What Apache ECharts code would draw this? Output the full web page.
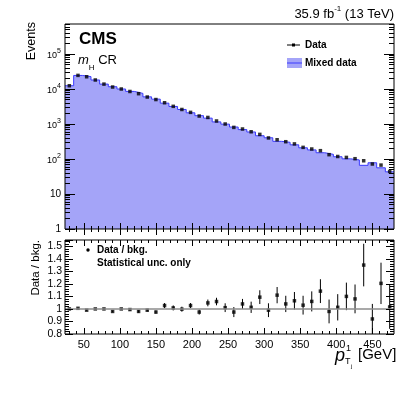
<!DOCTYPE html>
<html>
<head>
<meta charset="utf-8">
<script src="https://cdn.jsdelivr.net/npm/echarts@6/dist/echarts.min.js"></script>
<style>
html,body{margin:0;padding:0;background:#fff}
#chart{width:407px;height:395px}
</style>
</head>
<body>
<div id="chart"></div>
<script>
// bin edges (GeV) and values
const binEdges = [24,36,48,60,72,84,96,108,120,132,144,156,168,180,192,204,216,228,240,252,264,276,288,300,312,324,336,348,360,372,384,396,408,420,432,444,456,468,480];
const binCenters = [30,42,54,66,78,90,102,114,126,138,150,162,174,186,198,210,222,234,246,258,270,282,294,306,318,330,342,354,366,378,390,402,414,426,438,450,462,474];
const mixedData = [12400,24400,22600,18100,13800,11600,10000,8540,7500,5960,5130,3940,3170,2600,2090,1730,1470,1150,990,820,692,592,462,404,320,300,254,209,182,151,136,116,101,94,66,78,56,43];
const dataEvents = [12400,24500,22400,18100,13800,11400,10000,8500,7350,5900,5000,4050,3200,2600,2150,1690,1540,1220,1000,800,720,600,505,400,355,312,270,215,193,173,133,118,111,102,89,72,67,44];
const ratio = [1.0,1.005,0.99,1.0,1.0,0.98,1.0,0.995,0.98,0.99,0.975,1.027,1.008,0.998,1.027,0.975,1.048,1.059,1.01,0.975,1.04,1.013,1.094,0.99,1.11,1.04,1.065,1.03,1.06,1.142,0.98,1.013,1.1,1.08,1.35,0.92,1.204,1.016];
const ratioErr = [0.004,0.004,0.005,0.005,0.006,0.007,0.008,0.009,0.01,0.011,0.013,0.02,0.02,0.02,0.02,0.02,0.027,0.03,0.035,0.04,0.04,0.045,0.055,0.055,0.065,0.065,0.07,0.075,0.08,0.095,0.095,0.105,0.11,0.115,0.17,0.12,0.165,0.175];
const xMajorTicks = [50,100,150,200,250,300,350,400,450];
const xMinorTicks = [30,40,60,70,80,90,110,120,130,140,160,170,180,190,210,220,230,240,260,270,280,290,310,320,330,340,360,370,380,390,410,420,430,440,460,470];
const logMajorTicks = [1,10,100,1000,10000,100000];
const logMinorTicks = [2,3,4,5,6,7,8,9,20,30,40,50,60,70,80,90,200,300,400,500,600,700,800,900,
  2000,3000,4000,5000,6000,7000,8000,9000,20000,30000,40000,50000,60000,70000,80000,90000,
  200000,300000,400000,500000,600000,700000];

const FONT = '"Liberation Sans", Arial, sans-serif';
const X_MIN = 24, X_MAX = 480, Y_MIN = 1, Y_MAX = 7.2e5;

let chart = echarts.init(document.getElementById('chart'));

function xAxisDef(grid, pos, ticks, len, labels) {
  return {
    type: 'value', gridIndex: grid, position: pos, min: X_MIN, max: X_MAX, z: 10,
    axisLine: { show: false }, splitLine: { show: false },
    axisTick: { show: true, inside: true, length: len, customValues: ticks,
      lineStyle: { color: '#000', width: 1 } },
    axisLabel: labels ? { show: true, customValues: ticks, margin: 5, fontSize: 11,
      color: '#000', fontFamily: FONT } : { show: false }
  };
}

// log axis that carries the data and the decade labels
function logAxisDef() {
  return {
    type: 'log', gridIndex: 0, position: 'left', min: Y_MIN, max: Y_MAX, logBase: 10, z: 10,
    axisLine: { show: false }, splitLine: { show: false }, axisTick: { show: false },
    axisLabel: {
      show: true, customValues: logMajorTicks, margin: 4, fontFamily: FONT, color: '#000',
      formatter: function (v) {
        let e = Math.round(Math.log10(v));
        if (e === 0) return '{b|1}';
        if (e === 1) return '{b|10}';
        return '{m|10}{s|' + e + '}';
      },
      rich: {
        b: { fontSize: 10, fontFamily: FONT, color: '#000' },
        m: { fontSize: 9, fontFamily: FONT, color: '#000', verticalAlign: 'bottom', lineHeight: 12 },
        s: { fontSize: 7, fontFamily: FONT, color: '#000', verticalAlign: 'top', lineHeight: 12 }
      }
    }
  };
}

// tick-only overlay in decade units (tick marks only, no data)
function logTickAxisDef(pos, ticks, len) {
  return {
    type: 'value', gridIndex: 0, position: pos, min: 0, max: Math.log10(Y_MAX), z: 10,
    axisLine: { show: false, onZero: false }, splitLine: { show: false }, axisLabel: { show: false },
    axisTick: { show: true, inside: true, length: len, customValues: ticks.map(Math.log10),
      lineStyle: { color: '#000', width: 1 } }
  };
}

function ratioAxisDef(pos, labels) {
  return {
    type: 'value', gridIndex: 1, position: pos, min: 0.8, max: 1.55, interval: 0.1, z: 10,
    axisLine: { show: false, onZero: false }, splitLine: { show: false },
    axisTick: { show: true, inside: true, length: 8, lineStyle: { color: '#000' } },
    minorTick: { show: true, splitNumber: 5, length: 4, lineStyle: { color: '#000' } },
    axisLabel: labels ? { show: true, margin: 3, fontSize: 10.5, color: '#000', fontFamily: FONT,
      showMaxLabel: false,
      formatter: function (v) { return String(Math.round(v * 10) / 10); } } : { show: false }
  };
}

// histogram: one extra edge point closes the last bin
let histPoints = binEdges.map(function (e, i) {
  return [e, mixedData[Math.min(i, mixedData.length - 1)]];
});
let dataPoints = binCenters.map(function (c, i) { return [c, dataEvents[i]]; });
let ratioPoints = binCenters.map(function (c, i) { return [c, ratio[i]]; });
let ratioBars = binCenters.map(function (c, i) { return [c, ratio[i] - ratioErr[i], ratio[i] + ratioErr[i]]; });

chart.setOption({
  animation: false,
  textStyle: { fontFamily: FONT },
  grid: [
    { left: 65, right: 13, top: 24, height: 205, show: true, z: 10, borderColor: '#000', borderWidth: 1, backgroundColor: 'transparent' },
    { left: 65, right: 13, top: 240, height: 94, show: true, z: 10, borderColor: '#000', borderWidth: 1, backgroundColor: 'transparent' }
  ],
  xAxis: [
    xAxisDef(0, 'bottom', xMajorTicks, 6, false),
    xAxisDef(0, 'bottom', xMinorTicks, 3, false),
    xAxisDef(0, 'top', xMajorTicks, 6, false),
    xAxisDef(0, 'top', xMinorTicks, 3, false),
    xAxisDef(1, 'bottom', xMajorTicks, 6, true),
    xAxisDef(1, 'bottom', xMinorTicks, 3, false),
    xAxisDef(1, 'top', xMajorTicks, 6, false),
    xAxisDef(1, 'top', xMinorTicks, 3, false)
  ],
  yAxis: [
    logAxisDef(),
    logTickAxisDef('left', logMajorTicks, 10),
    logTickAxisDef('left', logMinorTicks, 5),
    logTickAxisDef('right', logMajorTicks, 10),
    logTickAxisDef('right', logMinorTicks, 5),
    ratioAxisDef('left', true),
    ratioAxisDef('right', false)
  ],
  series: [
    {
      name: 'Mixed data', type: 'line', xAxisIndex: 0, yAxisIndex: 0,
      step: 'end', symbol: 'none', data: histPoints,
      lineStyle: { color: '#3a3aff', width: 1 },
      areaStyle: { color: '#a4a4f8', opacity: 1, origin: 'start' },
      z: 2
    },
    {
      name: 'Data', type: 'scatter', xAxisIndex: 0, yAxisIndex: 0,
      symbol: 'rect', symbolSize: 3.5, itemStyle: { color: '#000' },
      data: dataPoints, z: 3
    },
    {
      name: 'ratioErr', type: 'custom', xAxisIndex: 4, yAxisIndex: 5,
      renderItem: function (params, api) {
        let p1 = api.coord([api.value(0), api.value(1)]);
        let p2 = api.coord([api.value(0), api.value(2)]);
        return { type: 'line', shape: { x1: p1[0], y1: p1[1], x2: p2[0], y2: p2[1] },
          style: { stroke: '#000', lineWidth: 1 } };
      },
      data: ratioBars, z: 3
    },
    {
      name: 'Data / bkg.', type: 'scatter', xAxisIndex: 4, yAxisIndex: 5,
      symbol: 'rect', symbolSize: 3.5, itemStyle: { color: '#000' },
      data: ratioPoints, z: 4,
      markLine: {
        silent: true, symbol: 'none', label: { show: false },
        lineStyle: { color: '#8c8c8c', width: 1.5, type: 'solid' },
        data: [{ yAxis: 1 }]
      }
    }
  ],
  graphic: [
    // luminosity label
    { type: 'text', right: 13, top: 5, style: {
      text: '{a|35.9 fb}{s|-1}{a| (13 TeV)}', fill: '#000',
      rich: { a: { fontSize: 13, fontFamily: FONT, verticalAlign: 'bottom', lineHeight: 16 },
              s: { fontSize: 8, fontFamily: FONT, verticalAlign: 'top', lineHeight: 16 } } } },
    { type: 'text', left: 79, top: 31, style: { text: 'CMS', fontSize: 17, fontWeight: 'bold', fontFamily: FONT, fill: '#000' } },
    { type: 'text', left: 78, top: 54, style: {
      text: '{i|m}{sub|H}{a| CR}', fill: '#000',
      rich: { i: { fontSize: 13, fontStyle: 'italic', fontFamily: FONT, verticalAlign: 'top', lineHeight: 16 },
              sub: { fontSize: 8, fontFamily: FONT, verticalAlign: 'bottom', lineHeight: 18 },
              a: { fontSize: 13, fontFamily: FONT, verticalAlign: 'top', lineHeight: 16 } } } },
    // axis titles
    { type: 'text', x: 32, y: 22, rotation: Math.PI / 2, style: { text: 'Events', fontSize: 12.5, fontFamily: FONT, fill: '#000', align: 'right', verticalAlign: 'middle' } },
    { type: 'text', x: 36, y: 240, rotation: Math.PI / 2, style: { text: 'Data / bkg.', fontSize: 11.5, fontFamily: FONT, fill: '#000', align: 'right', verticalAlign: 'middle' } },
    { type: 'text', x: 335, y: 356, style: { text: 'p', fontSize: 18, fontStyle: 'italic', fontFamily: FONT, fill: '#000', verticalAlign: 'middle' } },
    { type: 'text', x: 346, y: 349, style: { text: '1', fontSize: 9, fontFamily: FONT, fill: '#000', verticalAlign: 'middle' } },
    { type: 'text', x: 345, y: 362, style: { text: 'T', fontSize: 9, fontFamily: FONT, fill: '#000', verticalAlign: 'middle' } },
    { type: 'text', x: 351, y: 366, style: { text: 'j', fontSize: 6, fontFamily: FONT, fill: '#000', verticalAlign: 'middle' } },
    { type: 'text', x: 358, y: 355, style: { text: '[GeV]', fontSize: 15, fontFamily: FONT, fill: '#000', verticalAlign: 'middle' } },
    // top legend
    { type: 'line', shape: { x1: 287, y1: 45, x2: 300, y2: 45 }, style: { stroke: '#000', lineWidth: 1 } },
    { type: 'rect', shape: { x: 292, y: 43.5, width: 3, height: 3 }, style: { fill: '#000' } },
    { type: 'text', x: 305, y: 45, style: { text: 'Data', fontSize: 10, fontWeight: 'bold', fontFamily: FONT, fill: '#000', verticalAlign: 'middle' } },
    { type: 'rect', shape: { x: 287, y: 58, width: 15, height: 10 }, style: { fill: '#a4a4f8' } },
    { type: 'line', shape: { x1: 287, y1: 63, x2: 302, y2: 63 }, style: { stroke: '#3a3aff', lineWidth: 1 } },
    { type: 'text', x: 305, y: 63, style: { text: 'Mixed data', fontSize: 10, fontWeight: 'bold', fontFamily: FONT, fill: '#000', verticalAlign: 'middle' } },
    // ratio legend
    { type: 'circle', shape: { cx: 88, cy: 250, r: 1.7 }, style: { fill: '#000' } },
    { type: 'text', x: 97, y: 250, style: { text: 'Data / bkg.', fontSize: 10, fontWeight: 'bold', fontFamily: FONT, fill: '#000', verticalAlign: 'middle' } },
    { type: 'text', x: 97, y: 263, style: { text: 'Statistical unc. only', fontSize: 10, fontWeight: 'bold', fontFamily: FONT, fill: '#000', verticalAlign: 'middle' } }
  ]
});
</script>
</body>
</html>
